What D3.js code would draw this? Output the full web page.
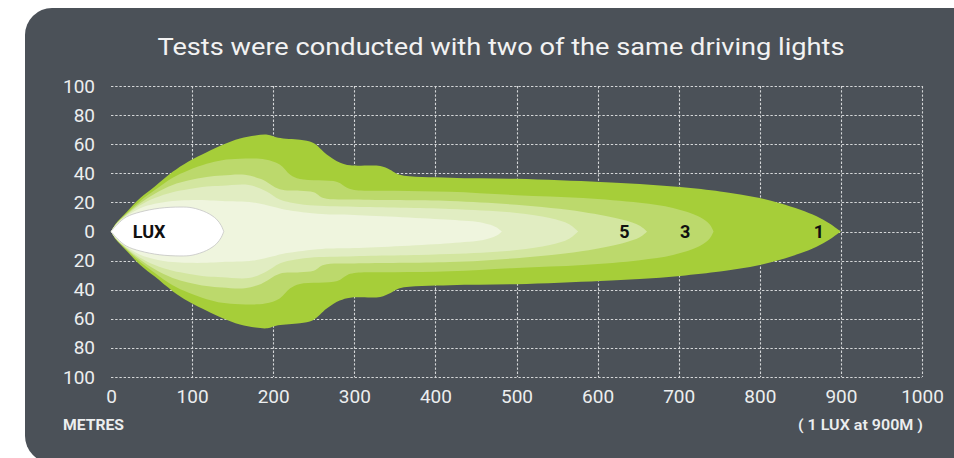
<!DOCTYPE html>
<html>
<head>
<meta charset="utf-8">
<script src="https://cdn.jsdelivr.net/npm/d3@7"></script>
<style>
  html, body { margin: 0; padding: 0; background: #ffffff; }
  svg { display: block; }
  text { font-family: Roboto, "Open Sans", sans-serif; }
</style>
</head>
<body>
<svg id="chart" width="954" height="458"></svg>
<script>
// ---- data (distance in metres, upper half-width in chart units) ----
const titleText = "Tests were conducted with two of the same driving lights";
const xTicks = [0, 100, 200, 300, 400, 500, 600, 700, 800, 900, 1000];
const yTicks = [-100, -80, -60, -40, -20, 0, 20, 40, 60, 80, 100];

const lux1 = [[0,0],[6,5.5],[17,12],[36,23],[54,31],[76,41],[95,48],[118,54.5],[137,59.5],[159,64],[178,66],[193,66.5],[206,64.5],[233,63],[249,61],[266,53],[282,47.5],[295,45.5],[332,45],[344,42.5],[356,39],[418,37],[500,36.2],[603,34],[652,32.6],[702,30.5],[751,27.5],[776,25.5],[800,23],[825,19.5],[850,15],[870,10.5],[886,5.5],[900,0]];
const lux3 = [[0,0],[6,5.2],[17,11.3],[36,21],[54,28.5],[76,37],[95,42],[118,46.5],[137,49],[159,50],[190,49.5],[208,46],[221,39],[233,36],[279,34],[291,30],[300,28.6],[350,28],[418,27.3],[500,25],[582,23],[652,19.7],[693,16.2],[726,10],[738,5],[743,0]];
const lux5 = [[0,0],[6,5],[17,10.8],[36,19.5],[54,26],[76,32],[95,35],[118,37.5],[137,38.5],[165,39],[185,36],[208,29],[233,28],[250,27],[262,23],[300,22],[418,21],[500,18.3],[582,13.4],[631,8],[652,4],[661,0]];
const lux10 = [[0,0],[6,4.7],[17,10.3],[36,18],[54,23],[76,27],[95,29],[118,31],[137,31.5],[170,32],[190,28],[208,22],[221,20],[245,18],[300,17],[418,15.5],[500,12.8],[541,9.3],[565,5],[576,0]];
const lux20 = [[0,0],[6,4.4],[17,9.8],[36,16],[54,19],[76,21],[95,21.5],[118,21.5],[137,21],[175,20],[200,17],[215,15],[260,12],[300,11.4],[418,8],[459,5.9],[475,3],[482,0]];
const luxCore = [[0,0],[8,5],[19,10],[36,13.4],[60,16],[85,16.8],[100,16.3],[118,13],[130,8.5],[136,4],[139,0]];

const layers = [lux1, lux3, lux5, lux10, lux20];
const layerColors = ["#a6ce39", "#bcd96c", "#d3e6a0", "#e1edc2", "#eff5de"];

const bandLabels = ["5", "3", "1"];
const bandLabelDist = [633, 708, 873];

// ---- drawing ----
const svg = d3.select("#chart");

// panel
svg.append("rect")
  .attr("x", 25).attr("y", 8)
  .attr("width", 980).attr("height", 455)
  .attr("rx", 27).attr("ry", 27)
  .attr("fill", "#4b5158");

const x = d3.scaleLinear().domain([0, 1000]).range([111, 922]);
const y = d3.scaleLinear().domain([-100, 100]).range([377, 86]);

// title
svg.append("text")
  .attr("x", 501).attr("y", 55)
  .attr("text-anchor", "middle")
  .attr("fill", "#f2f2f2")
  .attr("font-size", 24)
  .attr("font-weight", 400)
  .attr("textLength", 687)
  .attr("lengthAdjust", "spacingAndGlyphs")
  .text(titleText);

// grid
const grid = svg.append("g").attr("stroke", "#d4d6d8").attr("stroke-width", 1.1).attr("stroke-dasharray", "2.4,1.8");
grid.selectAll("line.h").data(yTicks).join("line")
  .attr("class", "h")
  .attr("x1", x(0)).attr("x2", x(1000))
  .attr("y1", d => Math.round(y(d)) + 0.5).attr("y2", d => Math.round(y(d)) + 0.5);
grid.selectAll("line.v").data(xTicks.filter(d => d > 0)).join("line")
  .attr("class", "v")
  .attr("x1", d => Math.round(x(d)) + 0.5).attr("x2", d => Math.round(x(d)) + 0.5)
  .attr("y1", y(100)).attr("y2", y(-100));

// beam layers
const area = d3.area()
  .x(d => x(d[0]))
  .y0(d => y(-d[1]))
  .y1(d => y(d[1]))
  .curve(d3.curveCatmullRom.alpha(0.5));

svg.append("g").selectAll("path").data(layers).join("path")
  .attr("d", d => area(d))
  .attr("fill", (d, i) => layerColors[i]);

svg.append("path")
  .attr("d", area(luxCore))
  .attr("fill", "#ffffff")
  .attr("stroke", "#c4c4c4")
  .attr("stroke-width", 0.8);

// labels inside beam
svg.append("text")
  .attr("x", x(47)).attr("y", y(0))
  .attr("dy", "0.36em")
  .attr("text-anchor", "middle")
  .attr("font-size", 18).attr("font-weight", 700)
  .attr("fill", "#111")
  .text("LUX");

svg.append("g").selectAll("text").data(bandLabels).join("text")
  .attr("x", (d, i) => x(bandLabelDist[i]))
  .attr("y", y(0))
  .attr("dy", "0.36em")
  .attr("text-anchor", "middle")
  .attr("font-size", 18).attr("font-weight", 700)
  .attr("fill", "#111")
  .text(d => d);

// axes
const yAxis = d3.axisLeft(y).tickValues(yTicks).tickSize(0).tickPadding(16)
  .tickFormat(d => String(Math.abs(d)));
const gy = svg.append("g").attr("transform", `translate(${x(0)},0)`).call(yAxis);
gy.select(".domain").remove();
gy.selectAll("text").attr("fill", "#eceeef").attr("font-size", 19)
  .style("font-family", "Roboto, 'Open Sans', sans-serif");

const xAxis = d3.axisBottom(x).tickValues(xTicks).tickSize(0).tickPadding(13)
  .tickFormat(d3.format("d"));
const gx = svg.append("g").attr("transform", `translate(0,${y(-100)})`).call(xAxis);
gx.select(".domain").remove();
gx.selectAll("text").attr("fill", "#eceeef").attr("font-size", 19)
  .style("font-family", "Roboto, 'Open Sans', sans-serif");

svg.append("text")
  .attr("x", 63).attr("y", 430)
  .attr("fill", "#eceeef")
  .attr("font-size", 15).attr("font-weight", 700)
  .attr("textLength", 61)
  .attr("lengthAdjust", "spacingAndGlyphs")
  .text("METRES");

svg.append("text")
  .attr("x", 798).attr("y", 430)
  .attr("fill", "#eceeef")
  .attr("font-size", 15).attr("font-weight", 600)
  .attr("textLength", 125)
  .attr("lengthAdjust", "spacingAndGlyphs")
  .text("( 1 LUX at 900M )");
</script>
</body>
</html>
